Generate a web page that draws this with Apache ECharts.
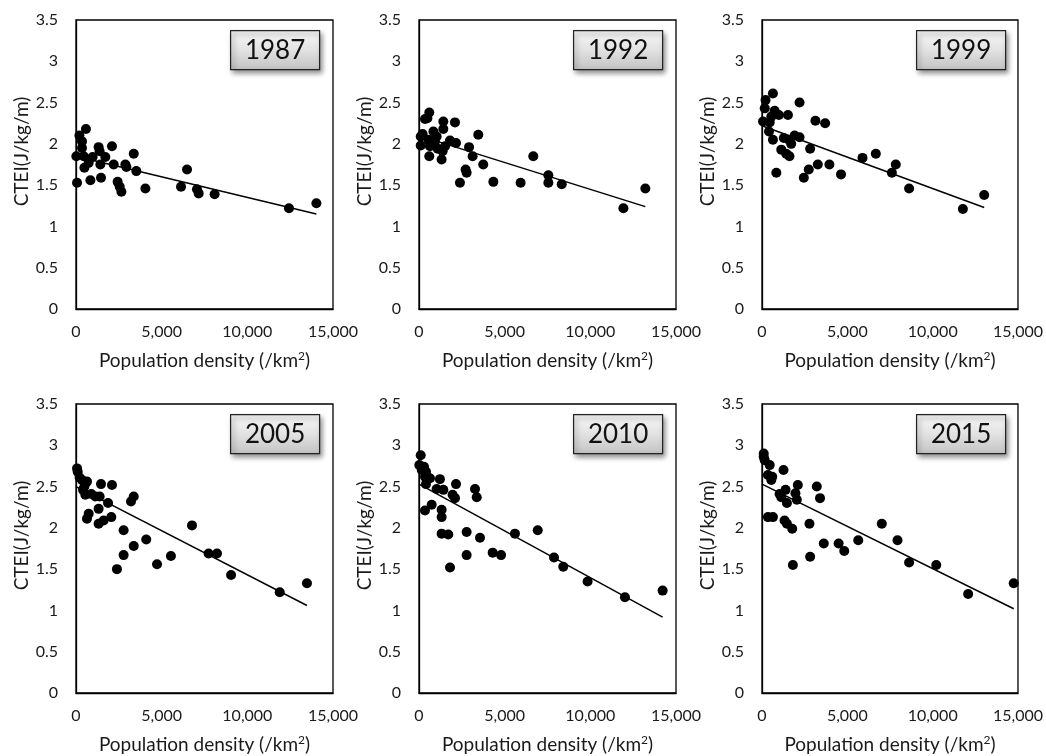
<!DOCTYPE html>
<html>
<head>
<meta charset="utf-8">
<script src="https://cdn.jsdelivr.net/npm/echarts@6/dist/echarts.min.js"></script>
<style>
html,body{margin:0;padding:0;background:#fff;}
#chart{width:1046px;height:756px;}
</style>
</head>
<body>
<div id="chart"></div>
<script>
// ---- Data ----
const years = ['1987', '1992', '1999', '2005', '2010', '2015'];

const dens1987 = [60,20,200,580,350,350,450,490,740,970,840,1320,1380,1420,1460,1710,2100,2200,2430,2550,2650,2880,2940,3370,3520,4050,6130,6480,7060,7160,8090,12430,14030];
const ctei1987 = [1.53,1.85,2.10,2.18,2.03,1.95,1.85,1.71,1.77,1.84,1.56,1.96,1.91,1.75,1.59,1.84,1.97,1.75,1.54,1.48,1.42,1.75,1.72,1.88,1.67,1.46,1.48,1.69,1.45,1.40,1.39,1.22,1.28];
const trend1987 = [[0,1.85],[14030,1.15]];

const dens1992 = [100,210,100,350,600,490,545,640,600,840,930,1030,1090,1320,1380,1420,1420,1520,1810,2100,2160,2390,2720,2780,2920,3130,3460,3750,4340,5930,6670,7550,7550,8330,11930,13210];
const ctei1992 = [2.09,2.12,1.98,2.30,2.38,2.31,2.05,1.97,1.85,2.15,2.03,2.09,1.94,1.81,1.91,2.27,2.18,1.97,2.04,2.26,2.01,1.53,1.69,1.65,1.96,1.85,2.11,1.75,1.54,1.53,1.85,1.62,1.53,1.51,1.22,1.46];
const trend1992 = [[0,2.10],[13210,1.24]];

const dens1999 = [60,160,210,450,410,545,640,640,740,840,990,1130,1280,1420,1520,1580,1610,1710,1910,2200,2200,2450,2740,2820,3130,3270,3700,3950,4630,5890,6670,7610,7840,8620,11770,13020];
const ctei1999 = [2.27,2.43,2.53,2.26,2.15,2.33,2.61,2.05,2.40,1.65,2.35,1.93,2.07,1.88,2.35,2.05,1.85,2.00,2.10,2.50,2.08,1.59,1.69,1.94,2.28,1.75,2.25,1.75,1.63,1.83,1.88,1.65,1.75,1.46,1.21,1.38];
const trend1999 = [[0,2.22],[13020,1.23]];

const dens2005 = [60,100,210,350,640,410,490,545,640,740,895,1130,1380,1320,1320,1460,1610,1870,2060,2100,2390,2780,2780,3210,3370,3370,4100,4730,5540,6770,7740,8230,9050,11890,13480];
const ctei2005 = [2.72,2.68,2.61,2.58,2.56,2.46,2.50,2.40,2.11,2.17,2.41,2.38,2.38,2.23,2.05,2.53,2.09,2.30,2.13,2.52,1.50,1.97,1.67,2.32,2.38,1.78,1.86,1.56,1.66,2.03,1.69,1.69,1.43,1.22,1.33];
const trend2005 = [[0,2.50],[13480,1.06]];

const dens2010 = [100,20,290,160,410,350,640,410,350,740,1030,1220,1420,1320,1320,1320,1710,1810,1960,2100,2160,2780,2780,3270,3370,3560,4300,4790,5600,6930,7880,8420,9840,12020,14220];
const ctei2010 = [2.88,2.76,2.74,2.70,2.68,2.62,2.60,2.53,2.21,2.28,2.47,2.59,2.46,2.22,2.13,1.93,1.92,1.52,2.40,2.36,2.53,1.95,1.67,2.47,2.37,1.88,1.70,1.67,1.93,1.97,1.64,1.53,1.35,1.16,1.24];
const trend2010 = [[0,2.53],[14220,0.92]];

const dens2015 = [100,100,160,450,350,600,545,350,640,1030,1130,1260,1380,1460,1320,1460,1770,1810,1960,2040,2100,2780,2820,3210,3400,3620,4490,4820,5640,7020,7940,8620,10210,12080,14750];
const ctei2015 = [2.90,2.86,2.82,2.76,2.64,2.62,2.58,2.13,2.13,2.41,2.37,2.70,2.46,2.30,2.09,2.05,1.99,1.55,2.42,2.34,2.52,2.05,1.65,2.50,2.36,1.81,1.81,1.72,1.85,2.05,1.85,1.58,1.55,1.20,1.33];
const trend2015 = [[0,2.53],[14750,1.02]];

const xTicks = [0, 5000, 10000, 15000];
const yTicks = [0, 0.5, 1, 1.5, 2, 2.5, 3, 3.5];

const xTitle = 'Population density (/km{sup|2})';
const yTitle = 'CTEI(J/kg/m)';

const panels = [
  {year: years[0], x: dens1987, y: ctei1987, t: trend1987},
  {year: years[1], x: dens1992, y: ctei1992, t: trend1992},
  {year: years[2], x: dens1999, y: ctei1999, t: trend1999},
  {year: years[3], x: dens2005, y: ctei2005, t: trend2005},
  {year: years[4], x: dens2010, y: ctei2010, t: trend2010},
  {year: years[5], x: dens2015, y: ctei2015, t: trend2015}
];

// ---- Layout ----
const FONT = 'Lato, "Open Sans", sans-serif';
const TXT = '#1a1a1a';
const colLeft = [76, 419, 762];
const rowTop = [20, 404];
const GW = 257, GH = 289;

const grids = [], xAxes = [], yAxes = [], series = [], graphics = [];

panels.forEach((p, i) => {
  const left = colLeft[i % 3];
  const top = rowTop[Math.floor(i / 3)];
  grids.push({left: left, top: top, width: GW, height: GH, show: true,
    borderColor: '#000', borderWidth: 1.3, backgroundColor: 'transparent', containLabel: false});
  xAxes.push({
    type: 'value', gridIndex: i, min: xTicks[0], max: xTicks[xTicks.length - 1], interval: 5000,
    axisLine: {show: true, lineStyle: {color: '#000', width: 1.3}},
    axisTick: {show: false}, splitLine: {show: false},
    axisLabel: {color: TXT, fontSize: 16, fontFamily: FONT, margin: 15,
      formatter: v => v.toLocaleString('en-US')},
    name: xTitle, nameLocation: 'middle', nameGap: 41,
    nameTextStyle: {color: TXT, fontSize: 19, fontFamily: FONT,
      rich: {sup: {fontSize: 12, verticalAlign: 'top', padding: [0,0,9,0], color: TXT, fontFamily: FONT}}}
  });
  yAxes.push({
    type: 'value', gridIndex: i, min: yTicks[0], max: yTicks[yTicks.length - 1], interval: 0.5,
    axisLine: {show: true, lineStyle: {color: '#000', width: 1.3}},
    axisTick: {show: false}, splitLine: {show: false},
    axisLabel: {color: TXT, fontSize: 16, fontFamily: FONT, margin: 18},
    name: yTitle, nameLocation: 'middle', nameGap: 44, nameRotate: 90,
    nameTextStyle: {color: TXT, fontSize: 19, fontFamily: FONT, padding: [0, 0, 0, 26]}
  });
  series.push({
    type: 'line', xAxisIndex: i, yAxisIndex: i, data: p.t, showSymbol: false, symbol: 'none',
    lineStyle: {color: '#000', width: 1.5}, z: 2, silent: true, animation: false
  });
  series.push({
    type: 'scatter', xAxisIndex: i, yAxisIndex: i,
    data: p.x.map((v, k) => [v, p.y[k]]),
    symbol: 'circle', symbolSize: 10, itemStyle: {color: '#000', opacity: 1}, z: 3, animation: false
  });
  graphics.push({
    type: 'group', left: left + 154, top: top + 10,
    children: [
      {type: 'rect', shape: {x: 0, y: 0, width: 89, height: 39},
        style: {
          fill: new echarts.graphic.LinearGradient(0, 0, 0, 1, [
            {offset: 0, color: '#f9f9f9'}, {offset: 0.5, color: '#e2e2e2'}, {offset: 1, color: '#c2c2c2'}]),
          stroke: '#222', lineWidth: 1.2,
          shadowBlur: 5, shadowOffsetX: 2, shadowOffsetY: 3, shadowColor: 'rgba(0,0,0,0.45)'
        }},
      {type: 'text', x: 44.5, y: 20,
        style: {text: p.year, fill: '#111', font: '26px ' + FONT, textAlign: 'center', textVerticalAlign: 'middle'}}
    ]
  });
});

const chart = echarts.init(document.getElementById('chart'), null, {renderer: 'canvas'});
chart.setOption({
  animation: false,
  backgroundColor: '#fff',
  grid: grids, xAxis: xAxes, yAxis: yAxes, series: series, graphic: graphics
});
</script>
</body>
</html>
